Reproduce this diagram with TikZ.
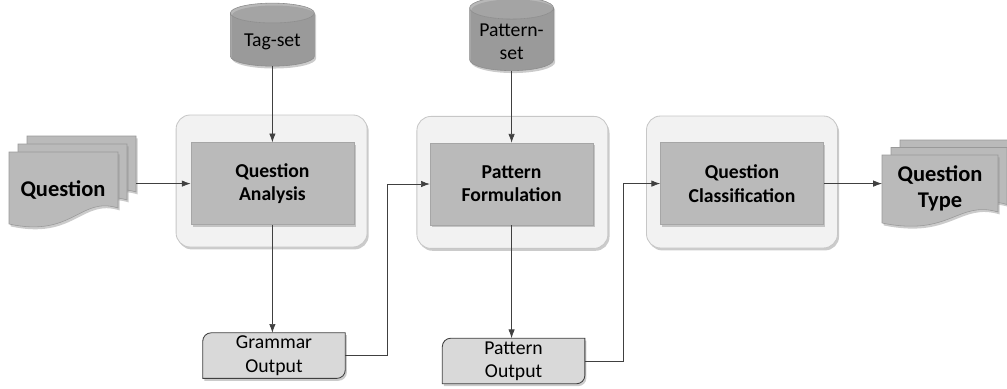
\documentclass[tikz,border=0pt]{standalone}
\usepackage{fontspec}
\setmainfont{Carlito}
\usetikzlibrary{shapes.geometric,arrows.meta,shadows,backgrounds}

\tikzset{
	softshadow/.style={drop shadow={shadow xshift=0.4mm,shadow yshift=-0.6mm,fill=black!45,opacity=0.45}},
	outerbox/.style={rectangle, rounded corners=10pt, draw=black!22, fill=black!5, line width=0.6pt,
		minimum width=4.775cm, minimum height=3.3cm, softshadow},
	innerbox/.style={rectangle, draw=black!35, fill=black!27, minimum width=4.075cm, minimum height=2.05cm,
		align=center, font=\fontsize{14}{16.5}\selectfont\bfseries, softshadow},
	datastore/.style={cylinder, shape border rotate=90, aspect=0.3, draw=black!45,
		cylinder uses custom fill, cylinder body fill=black!35, cylinder end fill=black!28,
		minimum width=2.1cm, minimum height=1.575cm, align=center,
		font=\fontsize{14}{16.5}\selectfont, softshadow},
	outtext/.style={minimum width=3.55cm, minimum height=1.125cm, inner sep=0pt, align=center,
		font=\fontsize{14}{16.5}\selectfont},
	outshape/.style={draw=black!75, fill=black!15, line width=0.6pt, softshadow},
	sheet/.style={draw=black!40, fill=black!27, line width=0.4pt, softshadow},
	doctext/.style={align=center, font=\fontsize{16}{19}\selectfont\bfseries},
	link/.style={draw=black!75, line width=0.5pt, -{Latex[length=2.2mm,width=1.6mm]}},
}

\begin{document}
\begin{tikzpicture}
		\useasboundingbox (0,0) rectangle (25.175,-9.7);
		% input question, stack of sheets
		\foreach \k in {2,1,0}{
			\filldraw[sheet] ({0.225+0.225*\k},{-3.8+0.2*\k}) -- ++(2.725,0) -- ++(0,-1.4)
				.. controls ++(-0.95,0.3) and ++(1.6,-0.35) .. ++(-2.725,-0.4) -- cycle;
		}
		\node[doctext] (qin) at (1.575,-4.75) {Question};
		\coordinate (qinend) at (3.4,-4.59);
		% output question type, stack of sheets
		\foreach \k in {2,1,0}{
			\filldraw[sheet] ({22.05+0.225*\k},{-3.875+0.1875*\k}) -- ++(2.9,0) -- ++(0,-1.425)
				.. controls ++(-1.0,0.3) and ++(1.7,-0.35) .. ++(-2.9,-0.275) -- cycle;
		}
		\node[doctext] (qtype) at (23.5,-4.71) {Question\\Type};
		\coordinate (qtypeend) at (22.05,-4.59);

		% processing stages
		\node[outerbox] (qabg) at (6.79,-4.525) {};
		\node[outerbox] (pfbg) at (12.81,-4.56) {};
		\node[outerbox] (qcbg) at (18.55,-4.55) {};
		\node[innerbox] (qa) at (6.81,-4.59) {Question\\Analysis};
		\node[innerbox] (pf) at (12.79,-4.6) {Pattern\\Formulation};
		\node[innerbox] (qc) at (18.55,-4.59) {Question\\Classification};

		% data stores
		\node[datastore] (tags) at (6.81,-1.05) {Tag-set};
		\node[datastore] (pats) at (12.79,-1.05) {Pattern-\\set};

		% intermediate outputs
		\node[outtext] (gout) at (6.85,-8.89) {Grammar\\Output};
		\node[outtext] (pout) at (12.84,-9.025) {Pattern\\Output};
		\begin{scope}[on background layer]
			\foreach \b in {gout,pout}{
				\filldraw[outshape] (\b.south west) -- ([yshift=-6pt]\b.north west)
					arc[start angle=180,end angle=90,radius=6pt] -- (\b.north east)
					-- ([yshift=6pt]\b.south east) arc[start angle=0,end angle=-90,radius=6pt] -- cycle;
			}
		\end{scope}

		% connectors
		\draw[link] (qinend) -- (qa.west);
		\draw[link] (tags.south) -- (qa.north);
		\draw[link] (qa.south) -- (qa.south |- gout.north);
		\draw[link] (gout.east) -- ++(1.05,0) |- (pf.west);
		\draw[link] (pats.south) -- (pf.north);
		\draw[link] (pf.south) -- (pf.south |- pout.north);
		\draw[link] (pout.east) -- ++(0.95,0) |- (qc.west);
		\draw[link] (qc.east) -- (qtypeend);
	\end{tikzpicture}
\end{document}
